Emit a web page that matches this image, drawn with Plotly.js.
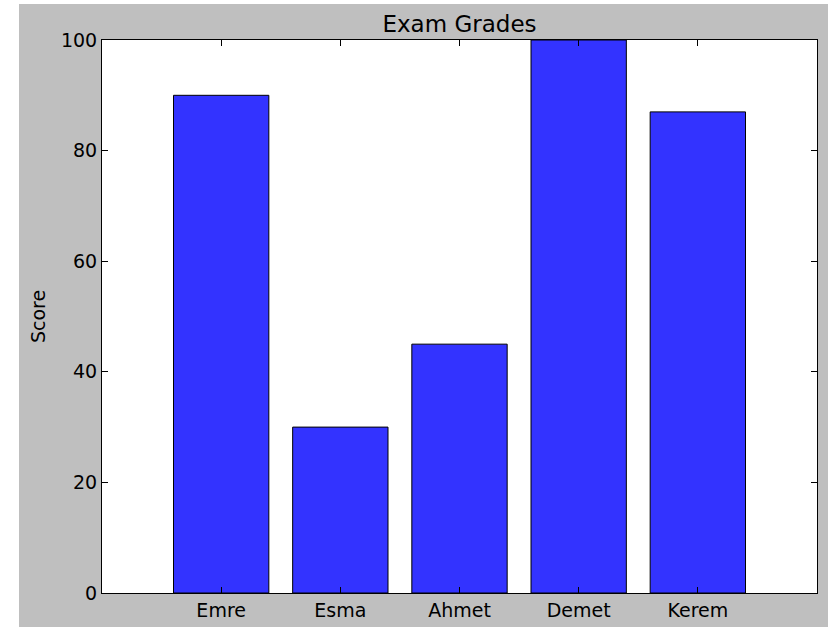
<!DOCTYPE html>
<html>
<head>
<meta charset="utf-8">
<script src="https://cdn.plot.ly/plotly-3.0.1.min.js"></script>
<style>
  html, body { margin: 0; padding: 0; background: #ffffff; width: 828px; height: 627px; overflow: hidden; }
  #chart { position: absolute; left: 19px; top: 4px; width: 809px; height: 623px; }
</style>
</head>
<body>
<div id="chart"></div>
<script>
const students = ["Emre", "Esma", "Ahmet", "Demet", "Kerem"];
const scores = [90, 30, 45, 100, 87];
const yTicks = [0, 20, 40, 60, 80, 100];

const font = "DejaVu Sans, sans-serif";

const trace = {
  type: "bar",
  x: students,
  y: scores,
  width: 0.8,
  marker: { color: "#3333ff", line: { color: "#000000", width: 1 } },
  hoverinfo: "x+y"
};

const layout = {
  width: 809,
  height: 623,
  paper_bgcolor: "#bfbfbf",
  plot_bgcolor: "#ffffff",
  margin: { l: 83, r: 11, t: 36, b: 34, pad: 0 },
  showlegend: false,
  title: {
    text: "Exam Grades",
    font: { family: font, size: 23, color: "#000000" },
    x: 0.5, xref: "paper", xanchor: "center",
    y: 1, yref: "paper", yanchor: "bottom",
    pad: { b: 8 }
  },
  xaxis: {
    type: "category",
    range: [-1, 5],
    showgrid: false,
    zeroline: false,
    showline: true,
    linecolor: "#000000",
    linewidth: 1,
    mirror: "ticks",
    ticks: "inside",
    ticklen: 6,
    tickcolor: "#000000",
    tickfont: { family: font, size: 19, color: "#000000" },
    automargin: false,
    fixedrange: true
  },
  yaxis: {
    range: [0, 100],
    tickvals: yTicks,
    ticktext: yTicks.map(String),
    showgrid: false,
    zeroline: false,
    showline: true,
    linecolor: "#000000",
    linewidth: 1,
    mirror: "ticks",
    ticks: "inside",
    ticklen: 6,
    tickcolor: "#000000",
    tickfont: { family: font, size: 19, color: "#000000" },
    title: { text: "Score", font: { family: font, size: 19, color: "#000000" }, standoff: 10 },
    automargin: false,
    fixedrange: true
  }
};

Plotly.newPlot("chart", [trace], layout, { displayModeBar: false });
</script>
</body>
</html>
